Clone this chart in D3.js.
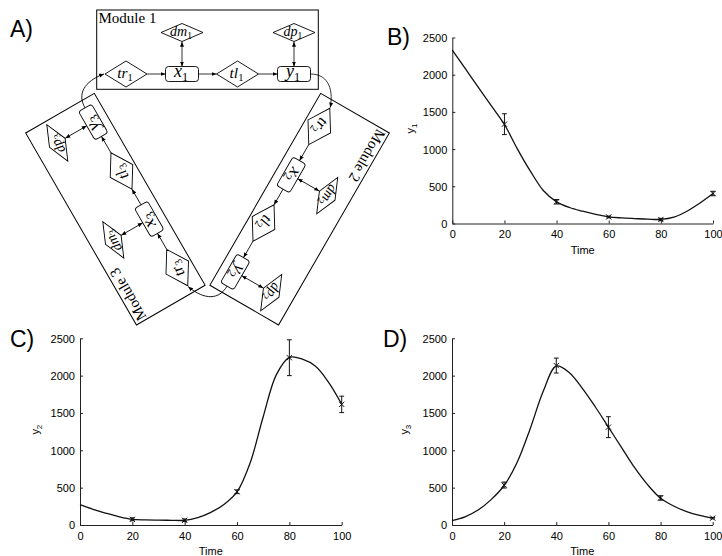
<!DOCTYPE html>
<html>
<head>
<meta charset="utf-8">
<script src="https://cdn.jsdelivr.net/npm/d3@7"></script>
<style>
  body { margin:0; background:#fff; }
  svg { display:block; }
  .tick text { font-family:"Liberation Sans", Arial, sans-serif; font-size:11px; fill:#000; }
  .node-label { font-family:"Liberation Serif", serif; font-style:italic; fill:#000; }
</style>
</head>
<body>
<svg id="fig" width="722" height="556"></svg>
<script>
// ── data ──
const OBS_TIME = [20, 40, 60, 80, 100];
const FIT_TIME = [0, 5, 10, 15, 20, 25, 30, 35, 40, 45, 50, 55, 60, 65, 70, 75, 80, 85, 90, 95, 100];
const X_TICKS = [0, 20, 40, 60, 80, 100];
const Y_TICKS = [0, 500, 1000, 1500, 2000, 2500];

const Y1_OBS = [1335, 292, 88, 54, 403];
const Y1_ERR = [140, 30, 12, 15, 30];
const Y1_FIT = [2330, 2080, 1830, 1580, 1331, 1000, 700, 440, 291, 215, 165, 122, 89, 75, 66, 58, 55, 85, 165, 275, 403];

const Y2_OBS = [76, 63, 445, 2240, 1615];
const Y2_ERR = [20, 18, 25, 240, 110];
const Y2_FIT = [273, 210, 157, 110, 76, 68, 65, 63, 63, 100, 170, 275, 443, 830, 1450, 2010, 2245, 2220, 2125, 1910, 1617];

const Y3_OBS = [535, 2135, 1310, 362, 92];
const Y3_ERR = [40, 100, 140, 30, 10];
const Y3_FIT = [60, 110, 200, 340, 529, 840, 1290, 1790, 2128, 2040, 1830, 1580, 1310, 1040, 770, 540, 358, 255, 180, 128, 92];

const PANEL_LETTERS = ['A)', 'B)', 'C)', 'D)'];
const MODULE_NAMES = ['Module 1', 'Module 2', 'Module 3'];

const svg = d3.select('#fig');

// ═══════════════════════════════════════════
//  PANEL A — module diagram
// ═══════════════════════════════════════════
const defs = svg.append('defs');
defs.append('marker')
  .attr('id', 'ah')
  .attr('viewBox', '0 0 10 10')
  .attr('refX', 10).attr('refY', 5)
  .attr('markerWidth', 5).attr('markerHeight', 5)
  .attr('markerUnits', 'userSpaceOnUse')
  .attr('orient', 'auto-start-reverse')
  .append('path').attr('d', 'M0,1 L10,5 L0,9 Z').attr('fill', '#000');

const CX = 207.5, CY = 156;   // rotation centre of the three modules
const diagram = svg.append('g');

function diamondPath(cx, cy, w, h) {
  return `M${cx-w/2},${cy} L${cx},${cy-h/2} L${cx+w/2},${cy} L${cx},${cy+h/2} Z`;
}

function addLabel(g, cx, cy, base, sub, size) {
  const t = g.append('text').attr('class', 'node-label')
    .attr('x', cx).attr('y', cy + size * 0.26)
    .attr('text-anchor', 'middle')
    .attr('font-size', size);
  t.append('tspan').text(base);
  t.append('tspan').attr('font-style', 'normal').attr('font-size', size * 0.68)
    .attr('dy', size * 0.2).text(sub);
}

function drawModule(k) {
  const g = diagram.append('g').attr('transform', `rotate(${k * 120},${CX},${CY})`);
  const n = String(k + 1);

  g.append('rect').attr('x', 96.7).attr('y', 10).attr('width', 221.6).attr('height', 79.3)
    .attr('fill', 'none').attr('stroke', '#000').attr('stroke-width', 1);
  g.append('text').attr('x', 98.5).attr('y', 23)
    .attr('font-family', '"Liberation Serif", serif').attr('font-size', 15)
    .text(MODULE_NAMES[k]);

  // diamonds
  [[126, 74, 42, 26, 'tr', 15.5], [237.5, 74, 42, 26, 'tl', 15.5],
   [182, 32.5, 42, 18, 'dm', 14], [294, 32.5, 42, 18, 'dp', 14]].forEach(d => {
    g.append('path').attr('d', diamondPath(d[0], d[1], d[2], d[3]))
      .attr('fill', '#fff').attr('stroke', '#000').attr('stroke-width', 0.9);
    addLabel(g, d[0] - 1, d[1], d[4], n, d[5]);
  });
  // rounded boxes
  [[182, 'x'], [294, 'y']].forEach(d => {
    g.append('rect').attr('x', d[0] - 16.5).attr('y', 66.5).attr('width', 33).attr('height', 15)
      .attr('rx', 3).attr('fill', '#fff').attr('stroke', '#000').attr('stroke-width', 0.9);
    addLabel(g, d[0] - 1, 72.5, d[1], n, 18);
  });

  const arrow = (x1, y1, x2, y2, both) => {
    const l = g.append('line').attr('x1', x1).attr('y1', y1).attr('x2', x2).attr('y2', y2)
      .attr('stroke', '#000').attr('stroke-width', 0.8)
      .attr('marker-end', 'url(#ah)');
    if (both) l.attr('marker-start', 'url(#ah)');
  };
  arrow(147, 74, 165.5, 74);
  arrow(198.5, 74, 216.5, 74);
  arrow(258.5, 74, 277.5, 74);
  arrow(182, 41.7, 182, 66.5, true);
  arrow(294, 41.7, 294, 66.5, true);

  // connector from y_k to tr_{k+1}
  g.append('path').attr('d', 'M310.5,74 C326,74 334,86 330.3,107.5')
    .attr('fill', 'none').attr('stroke', '#000').attr('stroke-width', 0.8)
    .attr('marker-end', 'url(#ah)');
}
[0, 1, 2].forEach(drawModule);

// ═══════════════════════════════════════════
//  PANELS B–D — time courses
// ═══════════════════════════════════════════
const PANELS = [
  { fit: Y1_FIT, obs: Y1_OBS, err: Y1_ERR, sub: '1', box: [452.3, 713, 37.5, 223.5], ylab: 41 },
  { fit: Y2_FIT, obs: Y2_OBS, err: Y2_ERR, sub: '2', box: [80, 341.7, 338.3, 525], ylab: 44 },
  { fit: Y3_FIT, obs: Y3_OBS, err: Y3_ERR, sub: '3', box: [452, 712.7, 338.3, 525], ylab: 47 },
];

function drawPanel(p) {
  const [xl, xr, yt, yb] = p.box;
  const x = d3.scaleLinear().domain([0, 100]).range([xl, xr]);
  const y = d3.scaleLinear().domain([0, 2500]).range([yb, yt]);
  const g = svg.append('g');

  const ax = g.append('g').attr('transform', `translate(0,${yb})`)
    .call(d3.axisBottom(x).tickValues(X_TICKS).tickFormat(d3.format('d'))
      .tickSizeInner(-3).tickSizeOuter(0).tickPadding(7));
  const ay = g.append('g').attr('transform', `translate(${xl},0)`)
    .call(d3.axisLeft(y).tickValues(Y_TICKS).tickFormat(d3.format('d'))
      .tickSizeInner(-3).tickSizeOuter(0).tickPadding(5));
  [ax, ay].forEach(a => {
    a.select('.domain').attr('stroke', '#222');
    a.selectAll('.tick line').attr('stroke', '#222');
  });
  ay.selectAll('.tick text').attr('dy', '0.36em');

  g.append('text').attr('x', (xl + xr) / 2).attr('y', yb + 30)
    .attr('text-anchor', 'middle')
    .attr('font-family', '"Liberation Sans", Arial, sans-serif').attr('font-size', 11)
    .text('Time');
  const yl = g.append('text')
    .attr('transform', `translate(${xl - p.ylab + 3},${(yt + yb) / 2 - 2}) rotate(-90)`)
    .attr('text-anchor', 'middle')
    .attr('font-family', '"Liberation Sans", Arial, sans-serif').attr('font-size', 11);
  yl.append('tspan').text('y');
  yl.append('tspan').attr('font-size', 8).attr('dy', 3).text(p.sub);

  const line = d3.line()
    .x((d, i) => x(FIT_TIME[i]))
    .y(d => y(d))
    .curve(d3.curveCatmullRom.alpha(0.5));
  g.append('path').datum(p.fit).attr('d', line)
    .attr('fill', 'none').attr('stroke', '#111').attr('stroke-width', 1.3);

  // error bars and x markers
  p.obs.forEach((v, i) => {
    const px = x(OBS_TIME[i]);
    const lo = y(v - p.err[i]), hi = y(v + p.err[i]);
    const e = g.append('g').attr('stroke', '#111').attr('stroke-width', 1);
    e.append('line').attr('x1', px).attr('x2', px).attr('y1', lo).attr('y2', hi);
    e.append('line').attr('x1', px - 2.4).attr('x2', px + 2.4).attr('y1', lo).attr('y2', lo);
    e.append('line').attr('x1', px - 2.4).attr('x2', px + 2.4).attr('y1', hi).attr('y2', hi);
    const py = y(v), s = 2.6;
    e.append('path').attr('d', `M${px-s},${py-s} L${px+s},${py+s} M${px-s},${py+s} L${px+s},${py-s}`);
  });
}
PANELS.forEach(drawPanel);

// panel letters
const LETTER_POS = [[10, 36.5], [387, 45], [10, 346.5], [383, 346.5]];
PANEL_LETTERS.forEach((t, i) => {
  svg.append('text').attr('x', LETTER_POS[i][0]).attr('y', LETTER_POS[i][1])
    .attr('font-family', '"Liberation Sans", Arial, sans-serif').attr('font-size', 23)
    .text(t);
});
</script>
</body>
</html>
